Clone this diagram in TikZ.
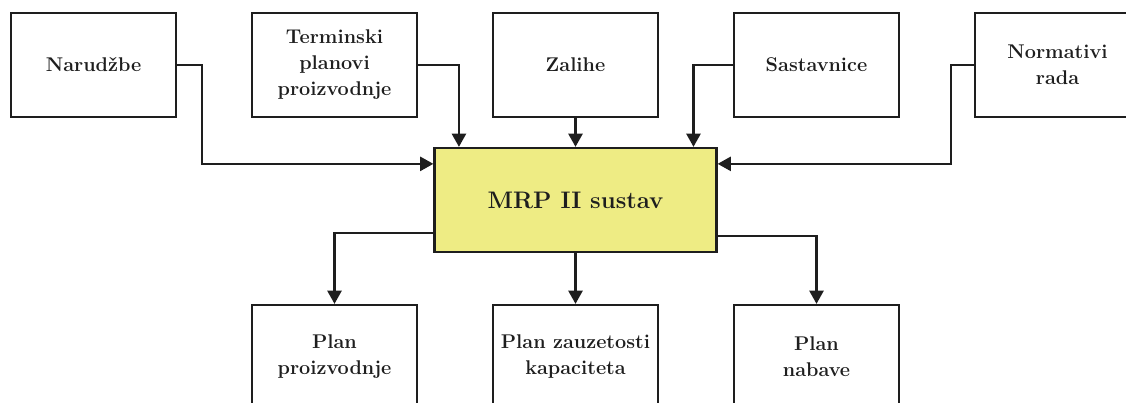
\documentclass[tikz,border=0pt]{standalone}
\usepackage{fontspec}
\usetikzlibrary{calc,arrows.meta}
\definecolor{mrpyellow}{RGB}{238,236,132}
\definecolor{ink}{RGB}{30,30,30}
\tikzset{
    block/.style = {draw=ink, text=ink, rectangle, line width=1.3pt,
        minimum height=2.08cm,
        minimum width=3.3cm, align=center,
        font=\fontsize{11.3}{14.8}\selectfont\bfseries},
    sys/.style = {block, fill=mrpyellow, minimum width=5.64cm,
        font=\fontsize{13.6}{17}\selectfont\bfseries},
    arrow/.style = {draw=ink, line width=1.3pt, -{Triangle[length=7.5pt,width=8pt]}}
}

\begin{document}
\begin{tikzpicture}[auto, node distance=4.82cm]
        \useasboundingbox (0,0) rectangle (22.52,-8.06);
        \clip (0,0) rectangle (22.52,-8.06);
        % inputs
        \node [block] at (1.87,-1.3) (nar) {Narudžbe};
        \node [block, right of=nar] (term) {Terminski\\planovi\\proizvodnje};
        \node [block, right of=term] (zal) {Zalihe};
        \node [block, right of=zal] (sast) {Sastavnice};
        \node [block, right of=sast] (norm) {Normativi\\rada};
        % system
        \node [sys, below of=zal, node distance=2.7cm] (mrp) {MRP II sustav};
        % outputs
        \node [block, below of=mrp, node distance=3.14cm] (kap) {Plan zauzetosti\\kapaciteta};
        \node [block, left of=kap] (proiz) {Plan\\proizvodnje};
        \node [block, right of=kap] (nab) {Plan\\nabave};
        \draw[arrow] (nar.east) -- ++(0.5,0) |- ($(mrp.north west)!.16!(mrp.south west)$);
        \draw[arrow] (term.east) -| ($(mrp.north west)!.09!(mrp.north east)$);
        \draw[arrow] (zal) -- (mrp);
        \draw[arrow] (sast.west) -| ($(mrp.north west)!.915!(mrp.north east)$);
        \draw[arrow] (norm.west) -- ++(-0.46,0) |- ($(mrp.north east)!.16!(mrp.south east)$);
        \draw[arrow] ($(mrp.north west)!.81!(mrp.south west)$) -| (proiz);
        \draw[arrow] (mrp) -- (kap);
        \draw[arrow] ($(mrp.north east)!.84!(mrp.south east)$) -| (nab);
    \end{tikzpicture}
\end{document}
